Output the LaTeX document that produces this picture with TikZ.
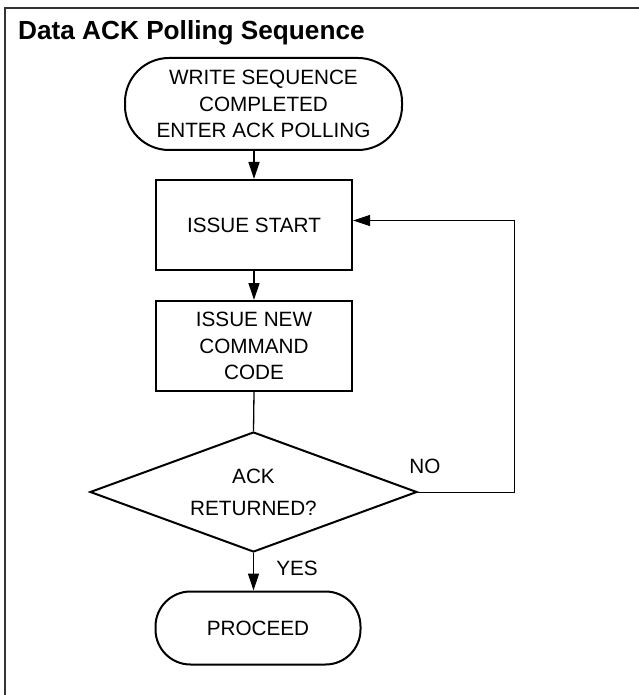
\documentclass[tikz,border=0pt]{standalone}
\usepackage{fontspec}
\setmainfont{Liberation Sans}
\usetikzlibrary{shapes.geometric,arrows.meta}

\begin{document}
\begin{tikzpicture}[x=1pt, y=-1pt,
			txt/.style  = {align=center, inner sep=0pt, font=\fontsize{20.7}{26.3}\selectfont},
			term/.style = {txt, draw, line width=2pt, rectangle, rounded corners=44pt},
			proc/.style = {txt, draw, line width=2pt, rectangle, minimum width=196pt, minimum height=90pt},
			dec/.style  = {txt, draw, line width=2pt, diamond, aspect=2.72, minimum width=327pt, minimum height=120pt,
			               font=\fontsize{20.7}{32}\selectfont},
			lbl/.style  = {inner sep=0pt, font=\fontsize{20.7}{24}\selectfont},
			flow/.style = {-{Triangle[length=17pt, width=11pt]}, line width=1.3pt},
			>=latex]
			
			\useasboundingbox (0,0) rectangle (638,695);
			\draw[line width=2pt, black!80] (5,8) rectangle (660,720);
			
			\node[anchor=base west, inner sep=0pt, font=\fontsize{26.2}{30}\selectfont\bfseries] (title) at (18,40) {Data ACK Polling Sequence};
			
			\node[term, minimum width=277pt, minimum height=92pt] (start) at (263.5,104) {WRITE SEQUENCE\\COMPLETED\\ENTER ACK POLLING};
			\node[proc] (c1) at (254,225) {ISSUE START};
			\node[proc] (c2) at (254,346) {ISSUE NEW\\COMMAND\\CODE};
			\node[dec] (ack) at (253.5,492) {ACK\\RETURNED?};
			\node[term, rounded corners=35pt, minimum width=205pt, minimum height=73pt] (done) at (258,628) {PROCEED};
			
			\node[lbl] (no) at (425,466) {NO};
			\node[lbl] (yes) at (297,568) {YES};
			
			\draw[flow] (start.south -| c1.north) -- (c1.north);
			\draw[flow] (c1) -- (c2);
			\draw[line width=1.3pt] (c2.south) -- (ack.north);
			\draw[flow] (ack.south) -- (ack.south |- done.north);
			\draw[flow, line width=1pt] (ack.east) -- ++(96,0) |- ([yshift=4.5pt]c1.east);
		\end{tikzpicture}
\end{document}
